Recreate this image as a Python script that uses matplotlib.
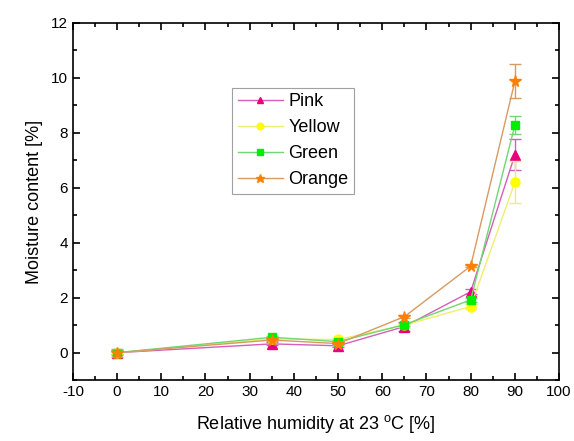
import matplotlib
matplotlib.use("Agg")
import matplotlib.pyplot as plt
from matplotlib.ticker import MultipleLocator

rh = [0, 35, 50, 65, 80, 90]
pink = [0.0, 0.32, 0.25, 0.95, 2.22, 7.2]
yellow = [0.0, 0.50, 0.48, 1.0, 1.68, 6.2]
green = [0.0, 0.56, 0.40, 1.02, 1.92, 8.28]
orange = [0.0, 0.46, 0.33, 1.31, 3.15, 9.88]
pink_err = [0.05, 0.05, 0.05, 0.15, 0.1, 0.56]
yellow_err = [0.05, 0.05, 0.05, 0.05, 0.08, 0.76]
green_err = [0.08, 0.05, 0.05, 0.05, 0.08, 0.32]
orange_err = [0.15, 0.05, 0.05, 0.05, 0.05, 0.62]

plt.rcParams['font.family'] = ['Liberation Sans', 'DejaVu Sans']
plt.rcParams['axes.unicode_minus'] = False

fig = plt.figure(figsize=(5.74, 4.41), dpi=100)
ax = fig.add_axes([0.127, 0.138, 0.847, 0.81])

series = [
    ("Pink", pink, pink_err, "^", "#e8007f", "#d65fb8", 6.5),
    ("Yellow", yellow, yellow_err, "o", "#ffff00", "#eeee70", 6.5),
    ("Green", green, green_err, "s", "#00ee00", "#70d870", 5.5),
    ("Orange", orange, orange_err, "*", "#ff8000", "#d89a60", 8.5),
]
for name, vals, err, mk, mc, lc, ms in series:
    ax.errorbar(rh, vals, yerr=err, fmt='none', ecolor=lc, elinewidth=1, capsize=4, capthick=1)
    ax.plot(rh, vals, color=lc, linewidth=1, marker=mk, markersize=ms,
            markerfacecolor=mc, markeredgecolor=mc, label=name)

ax.set_xlim(-10, 100)
ax.set_ylim(-1, 12)
ax.xaxis.set_major_locator(MultipleLocator(10))
ax.xaxis.set_minor_locator(MultipleLocator(5))
ax.yaxis.set_major_locator(MultipleLocator(2))
ax.yaxis.set_minor_locator(MultipleLocator(1))
ax.tick_params(which='both', direction='in', top=True, right=True, labelsize=11, width=1.2)
ax.tick_params(which='major', length=5)
ax.tick_params(which='minor', length=3)
for s in ax.spines.values():
    s.set_linewidth(1.2)

ax.set_xlabel("Relative humidity at 23 $^{\\mathregular{o}}$C [%]", fontsize=13, labelpad=10)
ax.set_ylabel("Moisture content [%]", fontsize=13, labelpad=6)

leg = ax.legend(loc='upper left', bbox_to_anchor=(0.328, 0.818), fontsize=13, frameon=True,
                fancybox=False, edgecolor='#888888', handlelength=2.5, borderpad=0.3,
                labelspacing=0.5, handletextpad=0.3, markerscale=0.75, borderaxespad=0)
leg.get_frame().set_linewidth(0.8)

fig.savefig("out.png", dpi=100)
